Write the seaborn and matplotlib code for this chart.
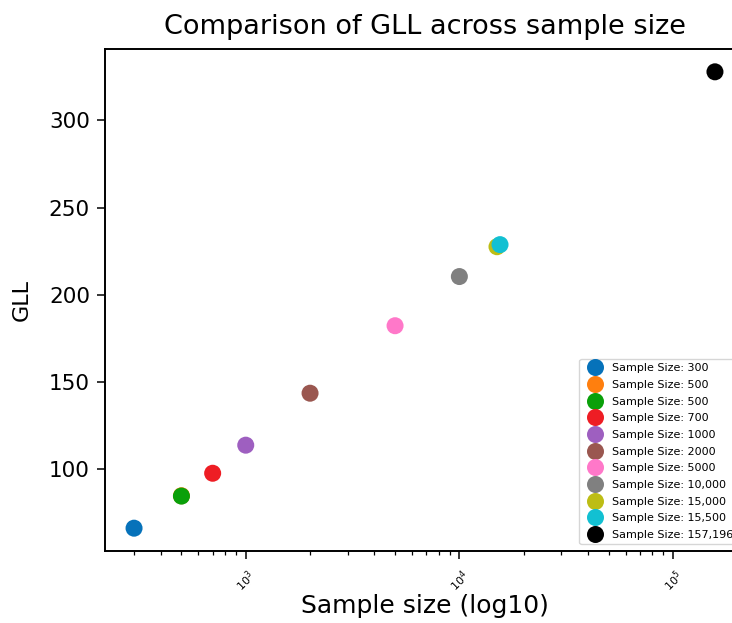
import matplotlib
matplotlib.use("Agg")
import matplotlib.pyplot as plt
import seaborn as sns
import pandas as pd

sample_sizes = [300, 500, 500, 700, 1000, 2000, 5000, 10000, 15000, 15500, 157196]
gll_values = [66.2, 84.8, 84.6, 97.7, 113.8, 143.6, 182.3, 210.5, 227.6, 228.8, 327.9]
labels = ["Sample Size: 300", "Sample Size: 500", "Sample Size: 500 ", "Sample Size: 700",
          "Sample Size: 1000", "Sample Size: 2000", "Sample Size: 5000",
          "Sample Size: 10,000", "Sample Size: 15,000", "Sample Size: 15,500",
          "Sample Size: 157,196"]
colors = ["#0672ba", "#ff7f0e", "#0aa00a", "#ee1d24", "#9e5fc0", "#9a5750",
          "#ff78c9", "#808080", "#bdbd15", "#12c0d2", "#000000"]

df = pd.DataFrame({"n": sample_sizes, "gll": gll_values, "label": labels})

fig = plt.figure(figsize=(7.32, 6.23), dpi=100)
ax = fig.add_axes([105 / 732, 72 / 623, 639 / 732, 502 / 623])

sns.scatterplot(data=df, x="n", y="gll", hue="label", palette=colors,
                s=150, linewidth=0, edgecolor="none", ax=ax, legend=True)
ax.set_xscale("log")

for sp in ax.spines.values():
    sp.set_linewidth(1.4)
    sp.set_color("black")

ax.tick_params(axis="y", labelsize=15.5, length=5.8, width=1.1, pad=5)
ax.tick_params(axis="x", which="major", labelsize=8, labelrotation=45, length=5.8,
               width=1.1, pad=6)
ax.tick_params(axis="x", which="minor", length=2.9, width=0.9)

ax.set_title("Comparison of GLL across sample size", fontsize=19.5, pad=11)
ax.set_xlabel("Sample size (log10)", fontsize=18, labelpad=0)
ax.set_ylabel("GLL", fontsize=16, labelpad=12)

handles, lbls = ax.get_legend_handles_labels()
leg = ax.legend(handles, [l.strip() for l in lbls], loc="lower right", fontsize=8,
                markerscale=1.0, labelspacing=0.6, handletextpad=0.5,
                borderaxespad=0.6)

fig.savefig("out.png", dpi=100)
